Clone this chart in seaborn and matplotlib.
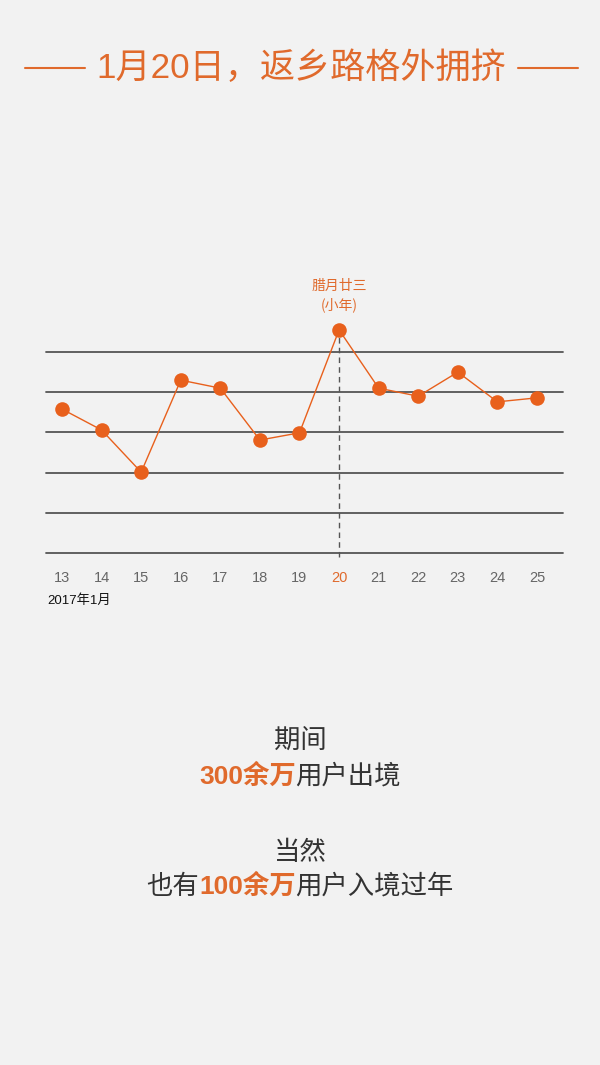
import matplotlib
matplotlib.use("Agg")
import matplotlib.pyplot as plt
import seaborn as sns
import pandas as pd

# ---- data ----
days = [13, 14, 15, 16, 17, 18, 19, 20, 21, 22, 23, 24, 25]
values = [3.58, 3.06, 2.01, 4.30, 4.10, 2.81, 2.99, 5.55, 4.10, 3.90, 4.50, 3.76, 3.86]
grid_levels = [1, 2, 3, 4, 5]
tick_labels = [str(d) for d in days]
highlight_day = 20
title = "1月20日，返乡路格外拥挤"
annot_line1 = "腊月廿三"
annot_line2 = "(小年)"
month_label = "2017年1月"
text_blocks = [
    [("期间", False)],
    [("300余万", True), ("用户出境", False)],
    [("当然", False)],
    [("也有", False), ("100余万", True), ("用户入境过年", False)],
]

ORANGE = "#e8601c"
TEXT_OR = "#e06a2c"
BG = "#f2f2f2"
GRID = "#555555"
DARK = "#333333"
MIX = ["Liberation Sans", "Noto Sans CJK SC", "DejaVu Sans"]

sns.set_theme(style="white")
plt.rcParams["font.family"] = ["Noto Sans CJK SC", "DejaVu Sans"]

W, H = 600, 1065
fig = plt.figure(figsize=(W / 100, H / 100), dpi=100, facecolor=BG)

ax_left, ax_right, ax_bottom, ax_top = 46, 563, 553, 300
ax = fig.add_axes([ax_left / W, 1 - ax_bottom / H, (ax_right - ax_left) / W, (ax_bottom - ax_top) / H])
ax.set_facecolor(BG)
unit_x = (537 - 62) / 12.0
ax.set_xlim(13 - (62 - ax_left) / unit_x, 25 + (ax_right - 537) / unit_x)
unit_y = (553 - 352) / 5.0
ax.set_ylim(0, (ax_bottom - ax_top) / unit_y)
for s in ax.spines.values():
    s.set_visible(False)

for g in [0] + grid_levels:
    ax.axhline(g, color=GRID, lw=1.3, zorder=1, clip_on=False)

hv = values[days.index(highlight_day)]
ax.plot([highlight_day, highlight_day], [-0.1, hv], color=GRID, lw=1.0,
        ls=(0, (4, 3)), zorder=2, clip_on=False)

df = pd.DataFrame({"day": days, "value": values})
sns.lineplot(data=df, x="day", y="value", ax=ax, color=ORANGE, lw=1.0, zorder=3,
             marker="o", markersize=10.5, markeredgewidth=0, markerfacecolor=ORANGE)
for l in ax.lines:
    l.set_clip_on(False)

ax.set_xticks(days)
ax.set_xticklabels(tick_labels, family=MIX)
ax.tick_params(axis="x", length=0, pad=13, labelsize=10.5, labelcolor="#666666")
for lab in ax.get_xticklabels():
    if lab.get_text() == str(highlight_day):
        lab.set_color(TEXT_OR)
ax.set_yticks([])
ax.set_xlabel("")
ax.set_ylabel("")

fig.text(339 / W, 1 - 286 / H, annot_line1, ha="center", va="center", fontsize=10, color=TEXT_OR)
fig.text(339 / W, 1 - 305 / H, annot_line2, ha="center", va="center", fontsize=10, color=TEXT_OR)

fig.text(47 / W, 1 - 601 / H, month_label, ha="left", va="center", fontsize=9.5,
         color="#111111", family=MIX)

fig.text(301 / W, 1 - 68 / H, title, ha="center", va="center", fontsize=25.3,
         color=TEXT_OR, family=MIX)
fig.add_artist(plt.Line2D([25 / W, 85 / W], [1 - 68 / H, 1 - 68 / H], color=TEXT_OR, lw=1.5))
fig.add_artist(plt.Line2D([518 / W, 578 / W], [1 - 68 / H, 1 - 68 / H], color=TEXT_OR, lw=1.5))

renderer = fig.canvas.get_renderer()
block_y = [740, 776, 852, 886]
for parts, yp in zip(text_blocks, block_y):
    objs = []
    widths = []
    for txt, hl in parts:
        t = fig.text(0, 1 - yp / H, txt, ha="left", va="center", fontsize=19,
                     color=TEXT_OR if hl else DARK, fontweight="bold" if hl else "light",
                     family=MIX if hl else ["Noto Sans CJK SC", "DejaVu Sans"])
        bb = t.get_window_extent(renderer=renderer)
        objs.append(t)
        widths.append(bb.width)
    total = sum(widths)
    x = (W - total) / 2
    for t, w in zip(objs, widths):
        t.set_x(x / W)
        x += w

fig.savefig("out.png", dpi=100, facecolor=BG)
